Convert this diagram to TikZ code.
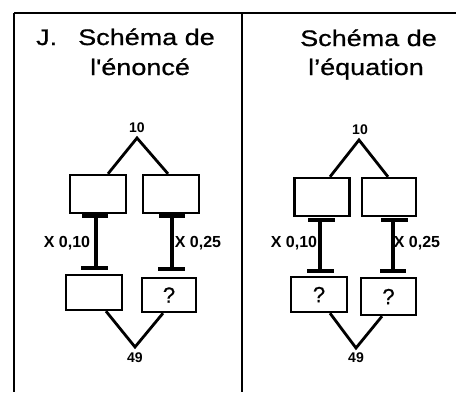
\documentclass[tikz,border=0pt]{standalone}
\usepackage{fontspec}
\setmainfont{Liberation Sans}
\newfontfamily\titlefont[FakeStretch=1.2,FakeBold=0.8]{Liberation Sans}
\newfontfamily\labelfont[FakeBold=0.6]{Liberation Sans}
\begin{document}
\begin{tikzpicture}[x=1pt,y=-1pt,
  frame/.style={line width=2.8pt},
  topline/.style={line width=1.8pt},
  box/.style={draw,line width=2.4pt,inner sep=0pt},
  leg/.style={line width=2.8pt},
  link/.style={line width=4pt},
  bar/.style={line width=4pt},
  title/.style={font=\titlefont\fontsize{22.5}{26}\selectfont,anchor=base west,inner sep=0pt},
  num/.style={font=\bfseries\fontsize{14}{16}\selectfont,inner sep=0pt},
  factor/.style={font=\bfseries\fontsize{16}{18}\selectfont,inner sep=0pt},
  unknown/.style={font=\labelfont\fontsize{22}{26}\selectfont},
]
\useasboundingbox (0,0) rectangle (458,392);

% frame and divider
\coordinate (tl) at (14,13);
\coordinate (tr) at (456,13);
\coordinate (bl) at (14,392);
\coordinate (mt) at (242,13);
\coordinate (mb) at (242,392);
\draw[topline] (tl) -- (tr);
\draw[frame] (tl) -- (bl);
\draw[frame] (mt) -- (mb);

% ---------- left panel ----------
\node[title] (tJ) at (36,45) {J.};
\node[title] (tL1) at (78,45) {Schéma de};
\node[title] (tL2) at (90,75) {l'énoncé};

\node[box,minimum width=56pt,minimum height=38pt] (A1) at (98,194) {};
\node[box,minimum width=56pt,minimum height=38pt] (A2) at (171,194) {};
\node[box,minimum width=56pt,minimum height=35pt] (A3) at (94,292.5) {};
\node[box,minimum width=54pt,minimum height=34pt,unknown] (A4) at (169,295) {?};

\coordinate (apexA) at (137,138);
\node[num] (tenA) at (137,128) {10};
\draw[leg] ([xshift=10pt]A1.north) -- (apexA) -- ([xshift=-3pt]A2.north);

\coordinate (tA) at (96,216);
\coordinate (bA) at (96,268);
\draw[link] (tA) -- (bA);
\draw[bar] ([xshift=-14pt]tA) -- ([xshift=12pt]tA);
\draw[bar] ([xshift=-15pt]bA) -- ([xshift=12pt]bA);
\node[factor] (fA) at (67,243) {X 0,10};

\coordinate (tB) at (172,216);
\coordinate (bB) at (172,269);
\draw[link] (tB) -- (bB);
\draw[bar] ([xshift=-13pt]tB) -- ([xshift=13pt]tB);
\draw[bar] ([xshift=-14pt]bB) -- ([xshift=13pt]bB);
\node[factor] (fB) at (198,243) {X 0,25};

\coordinate (apexA2) at (135,347);
\node[num] (sumA) at (135,358) {49};
\draw[leg] ([xshift=12pt]A3.south) -- (apexA2) -- ([xshift=-6pt]A4.south);

% ---------- right panel ----------
\node[title] (tR1) at (300,46) {Schéma de};
\node[title] (tR2) at (308,75) {l’équation};

\node[box,minimum width=55pt,minimum height=38pt] (B1) at (322,197) {};
\node[box,minimum width=54pt,minimum height=38pt] (B2) at (389,197) {};
\node[box,minimum width=56pt,minimum height=35pt,unknown] (B3) at (319,294.5) {?};
\node[box,minimum width=55pt,minimum height=37pt,unknown] (B4) at (388.5,296.5) {?};

\coordinate (apexB) at (359,140);
\node[num] (tenB) at (360,130) {10};
\draw[leg] ([xshift=8pt]B1.north) -- (apexB) -- ([xshift=-1pt]B2.north);

\coordinate (tC) at (320,220);
\coordinate (bC) at (320,271);
\draw[link] (tC) -- (bC);
\draw[bar] ([xshift=-12pt]tC) -- ([xshift=15pt]tC);
\draw[bar] ([xshift=-13pt]bC) -- ([xshift=14pt]bC);
\node[factor] (fC) at (294,243) {X 0,10};

\coordinate (tD) at (393,220);
\coordinate (bD) at (393,271);
\draw[link] (tD) -- (bD);
\draw[bar] ([xshift=-12pt]tD) -- ([xshift=15pt]tD);
\draw[bar] ([xshift=-13pt]bD) -- ([xshift=13pt]bD);
\node[factor] (fD) at (417,243) {X 0,25};

\coordinate (apexB2) at (356,348);
\node[num] (sumB) at (356,358) {49};
\draw[leg] ([xshift=11pt]B3.south) -- (apexB2) -- ([xshift=-6.5pt]B4.south);
\end{tikzpicture}
\end{document}
